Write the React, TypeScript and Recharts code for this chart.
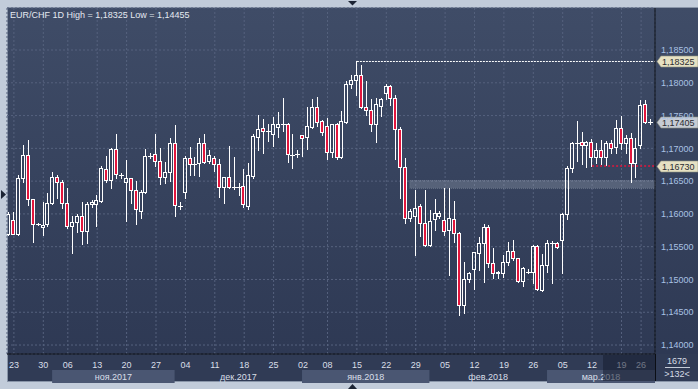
import React from 'react';
import { ComposedChart, Bar, XAxis, YAxis, CartesianGrid, ReferenceLine, ReferenceArea } from 'recharts';

// ---- Data (EUR/CHF daily candles, 132 visible bars) ----
const openP = [
  1.15689, 1.15903, 1.15698, 1.16543, 1.16894, 1.16223, 1.15842, 1.15796, 1.15842, 1.16162,
  1.16563, 1.16491, 1.16162, 1.15811, 1.15872, 1.15968, 1.15744, 1.16147, 1.16147, 1.16197,
  1.16685, 1.16513, 1.16986, 1.16589, 1.16491, 1.16543, 1.16360, 1.16049, 1.16330, 1.16883,
  1.16909, 1.16812, 1.16568, 1.16635, 1.17077, 1.16125, 1.16339, 1.16848, 1.16766, 1.16772,
  1.17077, 1.16807, 1.16848, 1.16757, 1.16415, 1.16559, 1.16415, 1.16415, 1.16426, 1.16125,
  1.16583, 1.17178, 1.17306, 1.17269, 1.17214, 1.17330, 1.17367, 1.17367, 1.16899, 1.16909,
  1.17204, 1.17169, 1.17330, 1.17631, 1.17417, 1.17341, 1.16940, 1.17367, 1.16873, 1.17407,
  1.17986, 1.18038, 1.18119, 1.17626, 1.17581, 1.17367, 1.17651, 1.17849, 1.17951, 1.17764,
  1.17291, 1.16720, 1.15942, 1.15973, 1.16121, 1.15866, 1.15526, 1.15918, 1.15973, 1.15907,
  1.15755, 1.15918, 1.15704, 1.14611, 1.15003, 1.15155, 1.15408, 1.15552, 1.15796, 1.15247,
  1.15099, 1.15094, 1.15271, 1.15439, 1.15323, 1.14981, 1.15119, 1.15119, 1.15511, 1.14839,
  1.15221, 1.15561, 1.15561, 1.15602, 1.15994, 1.16696, 1.17086, 1.17092, 1.17051, 1.17092,
  1.16873, 1.16975, 1.16873, 1.17086, 1.17016, 1.17306, 1.17077, 1.17163, 1.16772, 1.17051,
  1.17672, 1.17405,
];
const highP = [
  1.16029, 1.16034, 1.16594, 1.17051, 1.17127, 1.16228, 1.15854, 1.16186, 1.16314, 1.16635,
  1.16594, 1.16517, 1.16391, 1.15968, 1.15994, 1.16177, 1.16177, 1.16212, 1.16289, 1.16735,
  1.16883, 1.17001, 1.17214, 1.16624, 1.16822, 1.16552, 1.16502, 1.16365, 1.16986, 1.16925,
  1.17214, 1.17010, 1.16796, 1.17153, 1.17356, 1.16177, 1.16883, 1.17025, 1.16873, 1.17163,
  1.17214, 1.16975, 1.16883, 1.16838, 1.16568, 1.17036, 1.16873, 1.16467, 1.16685, 1.16781,
  1.17214, 1.17509, 1.17448, 1.17372, 1.17478, 1.17555, 1.17773, 1.17382, 1.17214, 1.16975,
  1.17211, 1.17635, 1.17748, 1.17783, 1.17425, 1.17459, 1.17376, 1.17382, 1.17570, 1.18027,
  1.18119, 1.18325, 1.18272, 1.18027, 1.17753, 1.17773, 1.17773, 1.17977, 1.17966, 1.17814,
  1.17330, 1.16848, 1.16075, 1.16365, 1.16147, 1.16365, 1.16060, 1.16223, 1.16044, 1.16400,
  1.16391, 1.16197, 1.15724, 1.15271, 1.15119, 1.15424, 1.15652, 1.15846, 1.15831, 1.15475,
  1.15122, 1.15373, 1.15576, 1.15602, 1.15328, 1.15195, 1.15152, 1.15526, 1.15526, 1.15384,
  1.15602, 1.15591, 1.15571, 1.16009, 1.16731, 1.17102, 1.17417, 1.17254, 1.17105, 1.17138,
  1.17086, 1.17127, 1.17117, 1.17127, 1.17433, 1.17494, 1.17204, 1.17230, 1.17153, 1.17738,
  1.17738, 1.17443,
];
const lowP = [
  1.15678, 1.15689, 1.15678, 1.16482, 1.16136, 1.15576, 1.15831, 1.15678, 1.15820, 1.16147,
  1.16247, 1.16095, 1.15781, 1.15408, 1.15729, 1.15546, 1.15561, 1.16110, 1.15820, 1.16186,
  1.16482, 1.16400, 1.16552, 1.16552, 1.15892, 1.16171, 1.15842, 1.15933, 1.16314, 1.16848,
  1.16735, 1.16452, 1.16467, 1.16507, 1.15973, 1.16075, 1.16238, 1.16594, 1.16594, 1.16578,
  1.16772, 1.16781, 1.16655, 1.16263, 1.16171, 1.16391, 1.16375, 1.16289, 1.16110, 1.16075,
  1.16552, 1.16975, 1.16934, 1.17112, 1.17041, 1.17173, 1.17265, 1.16796, 1.16705, 1.16873,
  1.16888, 1.16990, 1.17315, 1.17346, 1.17204, 1.16833, 1.16873, 1.16833, 1.16848, 1.17382,
  1.17925, 1.17814, 1.17611, 1.17509, 1.17265, 1.17102, 1.17498, 1.17753, 1.17661, 1.16833,
  1.16247, 1.15866, 1.15896, 1.15373, 1.15668, 1.15511, 1.15515, 1.15755, 1.15933, 1.15678,
  1.15068, 1.15576, 1.14455, 1.14484, 1.14966, 1.14850, 1.15144, 1.14966, 1.15195, 1.15018,
  1.15018, 1.15033, 1.15221, 1.15297, 1.14957, 1.14900, 1.15091, 1.14951, 1.14839, 1.14824,
  1.15119, 1.14951, 1.15475, 1.15094, 1.15918, 1.16644, 1.16807, 1.16761, 1.16716, 1.16731,
  1.16772, 1.16761, 1.16746, 1.16925, 1.16925, 1.16986, 1.16925, 1.16491, 1.16559, 1.17001,
  1.17382, 1.17372,
];
const closeP = [
  1.15999, 1.15698, 1.16543, 1.16894, 1.16223, 1.15842, 1.15842, 1.15826, 1.16162, 1.16563,
  1.16491, 1.16162, 1.15811, 1.15877, 1.15968, 1.15744, 1.16147, 1.16186, 1.16208, 1.16696,
  1.16513, 1.16986, 1.16604, 1.16589, 1.16543, 1.16360, 1.16070, 1.16330, 1.16883, 1.16883,
  1.16812, 1.16559, 1.16635, 1.17077, 1.16136, 1.16125, 1.16848, 1.16757, 1.16766, 1.17077,
  1.16796, 1.16894, 1.16757, 1.16415, 1.16559, 1.16406, 1.16415, 1.16415, 1.16147, 1.16594,
  1.17189, 1.17295, 1.17269, 1.17269, 1.17367, 1.17367, 1.17367, 1.16909, 1.16899, 1.16909,
  1.17153, 1.17341, 1.17631, 1.17407, 1.17245, 1.16940, 1.17367, 1.16873, 1.17417, 1.17977,
  1.18043, 1.18119, 1.17635, 1.17581, 1.17367, 1.17672, 1.17748, 1.17951, 1.17764, 1.17291,
  1.16720, 1.15942, 1.16044, 1.16095, 1.15866, 1.15526, 1.15896, 1.16009, 1.16009, 1.15744,
  1.15933, 1.15704, 1.14611, 1.15003, 1.15094, 1.15414, 1.15552, 1.15796, 1.15247, 1.15094,
  1.15119, 1.15271, 1.15439, 1.15323, 1.14981, 1.15170, 1.15119, 1.15511, 1.14850, 1.15221,
  1.15552, 1.15561, 1.15500, 1.15994, 1.16696, 1.17086, 1.17086, 1.17051, 1.17092, 1.16873,
  1.16975, 1.16873, 1.17086, 1.17001, 1.17306, 1.17077, 1.17163, 1.16772, 1.17001, 1.17661,
  1.17407, 1.17405,
];

const dayTickIdx = [1, 7, 12, 18, 24, 30, 36, 42, 48, 54, 60, 65, 71, 77, 83, 89, 95, 101, 107, 113, 119, 125, 129];
const dayTickLabels = ['23', '30', '06', '13', '20', '27', '04', '11', '18', '25', '02', '08', '15', '22', '29', '05', '12', '19', '26', '05', '12', '19', '26'];

const monthLabels = ['ноя.2017', 'дек.2017', 'янв.2018', 'фев.2018', 'мар.2018'];
const monthStartIdx = [8.8, 33.8, 59.8, 85.8, 109.8];
const monthShaded = [true, false, true, false, true];

const priceTicks = [1.14, 1.145, 1.15, 1.155, 1.16, 1.165, 1.17, 1.175, 1.18, 1.185];

const periodHigh = 1.18325;
const periodHighIdx = 71;
const lastPrice = 1.17405;
const supportLevel = 1.1673;
const supportStartIdx = 119;
const zoneLow = 1.1639;
const zoneHigh = 1.1651;
const zoneStartIdx = 81.8;

const titleText = 'EUR/CHF 1D High = 1,18325 Low = 1,14455';
const barsTotal = '1679';
const barsVisible = '>132<';

// ---- Layout ----
const W = 698;
const H = 389;
const MARGIN = { top: 8, right: 0, bottom: 8, left: 7 };
const Y_AXIS_W = 43;
const X_MIN = -0.408;
const X_MAX = 131.837;
const Y_MIN = 1.13863;
const Y_MAX = 1.19141;
const PLOT_W = W - MARGIN.left - MARGIN.right - Y_AXIS_W;
const PX_PER_IDX = PLOT_W / (X_MAX - X_MIN);
const FONT = '"Liberation Sans", Arial, sans-serif';

const RED = '#e2163d';

const data = openP.map((o, i) => ({
  idx: i,
  open: o,
  high: highP[i],
  low: lowP[i],
  close: closeP[i],
  range: [lowP[i], highP[i]],
}));

const monthEnds = monthStartIdx.map((s, i) => (i + 1 < monthStartIdx.length ? monthStartIdx[i + 1] : X_MAX));
const monthCenters = monthStartIdx.map((s, i) => (s + monthEnds[i]) / 2);

const fmt = (v: number) => v.toFixed(5).replace('.', ',');

const Candle = (props: any) => {
  const { x, y, width, height, payload } = props;
  if (!payload || x == null || y == null) return null;
  const { open, close, high, low } = payload;
  const top = Math.min(y, y + height);
  const h = Math.abs(height);
  const k = high - low > 0 ? h / (high - low) : 0;
  const py = (v: number) => top + (high - v) * k;
  const cx = Math.floor(x + width / 2) + 0.5;
  const yH = Math.round(py(high));
  const yL = Math.round(py(low));
  const yO = Math.round(py(open));
  const yC = Math.round(py(close));
  const bt = Math.min(yO, yC);
  const bb = Math.max(yO, yC);
  const bull = close >= open;
  if (bb - bt < 1) {
    return (
      <g>
        <line x1={cx} x2={cx} y1={yH} y2={yL + 1} stroke="#ffffff" strokeWidth={1} />
        <line x1={cx - 2.5} x2={cx + 2.5} y1={bt + 0.5} y2={bt + 0.5} stroke="#ffffff" strokeWidth={1} />
      </g>
    );
  }
  return (
    <g>
      {yH < bt && <line x1={cx} x2={cx} y1={yH} y2={bt + 0.5} stroke="#ffffff" strokeWidth={1} />}
      {yL > bb && <line x1={cx} x2={cx} y1={bb + 0.5} y2={yL + 1} stroke="#ffffff" strokeWidth={1} />}
      <rect
        x={cx - 2}
        y={bt + 0.5}
        width={3}
        height={bb - bt}
        fill={bull ? 'none' : RED}
        stroke="#ffffff"
        strokeWidth={1}
      />
    </g>
  );
};

const DayTick = (props: any) => {
  const { x, y, payload } = props;
  const i = dayTickIdx.indexOf(payload.value);
  if (i < 0) return null;
  return (
    <text x={x} y={y + 12} textAnchor="middle" fill="#d9dfe8" fontSize={9} fontFamily={FONT}>
      {dayTickLabels[i]}
    </text>
  );
};

const MonthTick = (props: any) => {
  const { x, y, payload } = props;
  const i = monthCenters.indexOf(payload.value);
  if (i < 0) return null;
  const w = (monthEnds[i] - monthStartIdx[i]) * PX_PER_IDX;
  return (
    <g>
      {monthShaded[i] && <rect x={x - w / 2} y={y} width={w} height={13} fill="#4a5672" />}
      <text x={x} y={y + 9.5} textAnchor="middle" fill="#d9dfe8" fontSize={9} fontFamily={FONT}>
        {monthLabels[i]}
      </text>
    </g>
  );
};

const PriceTick = (props: any) => {
  const { x, y, payload } = props;
  return (
    <text x={x + 4} y={y + 3.2} textAnchor="start" fill="#a9c2e4" fontSize={9} fontFamily={FONT}>
      {fmt(payload.value)}
    </text>
  );
};

const PriceTag = (props: any) => {
  const { viewBox, text, fill } = props;
  if (!viewBox) return null;
  const x0 = viewBox.x + viewBox.width + 2;
  const y0 = Math.round(viewBox.y) + 0.5;
  const hh = 5.5;
  return (
    <g>
      <path
        d={`M${x0},${y0} L${x0 + 4},${y0 - hh} L${W},${y0 - hh} L${W},${y0 + hh} L${x0 + 4},${y0 + hh} Z`}
        fill={fill}
        stroke="#8e907f"
        strokeWidth={0.6}
      />
      <text x={x0 + 5} y={y0 + 3.4} fill="#2a2c31" fontSize={9} fontFamily={FONT}>
        {text}
      </text>
    </g>
  );
};

export default function App() {
  return (
    <div
      style={{
        position: 'fixed',
        left: 0,
        top: 0,
        width: W,
        height: H,
        background: '#c2ccda',
        overflow: 'hidden',
        fontFamily: FONT,
      }}
    >
      <div style={{ position: 'absolute', left: 7, top: 7, width: W - 7, height: 375, background: '#8a96a9' }} />
      <div
        style={{
          position: 'absolute',
          left: 8,
          top: 8,
          width: W - 8,
          height: 346,
          background: 'linear-gradient(#3f4c67, #2e3954)',
        }}
      />
      <div style={{ position: 'absolute', left: 8, top: 354, width: W - 8, height: 27, background: '#303b55' }} />
      <div style={{ position: 'absolute', left: 0, top: 0 }}>
        <ComposedChart width={W} height={H} data={data} margin={MARGIN}>
          <CartesianGrid stroke="#56627e" strokeDasharray="2 2" />
          <XAxis
            xAxisId={0}
            dataKey="idx"
            type="number"
            domain={[X_MIN, X_MAX]}
            allowDataOverflow
            ticks={dayTickIdx}
            interval={0}
            tickLine={false}
            tickSize={0}
            axisLine={{ stroke: '#0b0e15' }}
            height={14}
            tick={<DayTick />}
          />
          <XAxis
            xAxisId="m"
            dataKey="idx"
            type="number"
            domain={[X_MIN, X_MAX]}
            allowDataOverflow
            ticks={monthCenters}
            interval={0}
            tickLine={false}
            tickSize={0}
            axisLine={false}
            height={13}
            tick={<MonthTick />}
          />
          <YAxis
            yAxisId={0}
            orientation="right"
            type="number"
            domain={[Y_MIN, Y_MAX]}
            allowDataOverflow
            ticks={priceTicks}
            interval={0}
            width={Y_AXIS_W}
            tickLine={false}
            tickSize={0}
            axisLine={{ stroke: '#0b0e15' }}
            tick={<PriceTick />}
          />
          <ReferenceArea
            x1={zoneStartIdx}
            x2={X_MAX}
            y1={zoneLow}
            y2={zoneHigh}
            fill="#a3abbb"
            fillOpacity={0.3}
            stroke="#b9c0cc"
            strokeOpacity={0.35}
            strokeDasharray="1 1"
          />
          <Bar
            dataKey="range"
            barSize={5}
            isAnimationActive={false}
            shape={(p: any) => <Candle {...p} />}
          />
          <ReferenceLine
            segment={[{ x: periodHighIdx, y: periodHigh }, { x: X_MAX, y: periodHigh }]}
            stroke="#ffffff"
            strokeDasharray="2 1"
          />
          <ReferenceLine
            segment={[{ x: supportStartIdx, y: supportLevel }, { x: X_MAX, y: supportLevel }]}
            stroke={RED}
            strokeWidth={1.5}
            strokeDasharray="2 2"
          />
          <ReferenceLine y={periodHigh} stroke="none" label={<PriceTag text={fmt(periodHigh)} fill="#e6e1c3" />} />
          <ReferenceLine y={lastPrice} stroke="none" label={<PriceTag text={fmt(lastPrice)} fill="#c6cbd4" />} />
          <ReferenceLine y={supportLevel} stroke="none" label={<PriceTag text={fmt(supportLevel)} fill="#e6e1c3" />} />
        </ComposedChart>
      </div>
      <div
        style={{
          position: 'absolute',
          left: 603,
          top: 355,
          width: 52,
          height: 26,
          background: 'rgba(24,31,49,0.55)',
        }}
      />
      <svg
        width={W}
        height={H}
        style={{ position: 'absolute', left: 0, top: 0, pointerEvents: 'none' }}
      >
        <text x={10} y={18.3} fill="#e4e9f0" fontSize={9} fontFamily={FONT}>
          {titleText}
        </text>
        <line x1={655.5} x2={655.5} y1={354} y2={381} stroke="#0b0e15" />
        <text x={677} y={364.3} textAnchor="middle" fill="#d6dce6" fontSize={9} fontFamily={FONT}>
          {barsTotal}
        </text>
        <line x1={665} x2={690} y1={367.5} y2={367.5} stroke="#c5ccd8" />
        <text x={677} y={377.3} textAnchor="middle" fill="#d6dce6" fontSize={9} fontFamily={FONT}>
          {barsVisible}
        </text>
        <polygon points="348,1 357,1 352.5,5.5" fill="#1c2434" />
        <polygon points="348,389 357,389 352.5,384" fill="#1c2434" />
        <polygon points="1,190 1,199 6,194.5" fill="#1c2434" />
      </svg>
    </div>
  );
}
